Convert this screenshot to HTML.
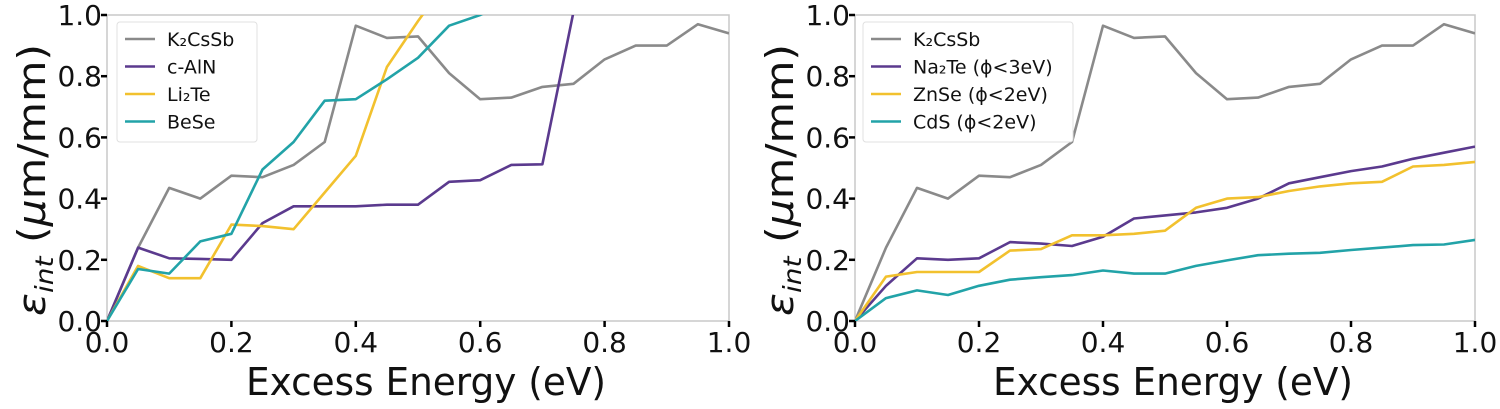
<!DOCTYPE html>
<html><head><meta charset="utf-8">
<style>
body{margin:0;background:#fff;width:1500px;height:409px;overflow:hidden}
svg{display:block}
text{font-family:"DejaVu Sans","Liberation Sans",sans-serif;fill:#111}
</style></head>
<body>
<svg id="chart" width="1500" height="409"></svg>
<script>
const xs=[0,0.05,0.1,0.15,0.2,0.25,0.3,0.35,0.4,0.45,0.5,0.55,0.6,0.65,0.7,0.75,0.8,0.85,0.9,0.95,1.0];
const k2cssb=[0,0.24,0.435,0.40,0.475,0.47,0.51,0.585,0.965,0.925,0.93,0.81,0.725,0.73,0.765,0.775,0.855,0.90,0.90,0.97,0.94];
const caln=[0,0.24,0.205,0.203,0.20,0.32,0.375,0.375,0.375,0.38,0.38,0.455,0.46,0.51,0.512,1.01];
const li2te=[0,0.18,0.14,0.14,0.315,0.31,0.30,0.42,0.54,0.83,0.98,1.12];
const bese=[0,0.17,0.155,0.26,0.285,0.495,0.585,0.72,0.725,0.79,0.86,0.965,1.0,1.05];
const na2te=[0,0.115,0.205,0.20,0.205,0.258,0.253,0.245,0.275,0.335,0.345,0.355,0.37,0.40,0.45,0.47,0.49,0.505,0.53,0.55,0.57];
const znse=[0,0.145,0.16,0.16,0.16,0.23,0.235,0.28,0.28,0.285,0.295,0.37,0.40,0.405,0.425,0.44,0.45,0.455,0.505,0.51,0.52];
const cds=[0,0.075,0.10,0.085,0.115,0.135,0.143,0.15,0.165,0.155,0.155,0.18,0.198,0.215,0.22,0.223,0.232,0.24,0.248,0.25,0.265];
const ticks=[0,0.2,0.4,0.6,0.8,1.0];
const tickLabels=["0.0","0.2","0.4","0.6","0.8","1.0"];
const leftNames=["K₂CsSb","c-AlN","Li₂Te","BeSe"];
const rightNames=["K₂CsSb","Na₂Te (ϕ<3eV)","ZnSe (ϕ<2eV)","CdS (ϕ<2eV)"];
const C={gray:"#8a8a8a",purple:"#5b3a8e",yellow:"#f2c12e",teal:"#22a3a8"};
const NS="http://www.w3.org/2000/svg";
const svg=document.getElementById('chart');
function mk(t,a,p){const e=document.createElementNS(NS,t);for(const k in a)e.setAttribute(k,a[k]);(p||svg).appendChild(e);return e;}
function panel(id,x0,x1,series,names,legend){
  const y0=321,y1=15;
  const X=v=>x0+(x1-x0)*v, Y=v=>y0-(y0-y1)*v;
  const g=mk('g',{});
  
  
  const cid='clip-'+id;
  const defs=mk('defs',{},g);
  const cp=mk('clipPath',{id:cid},defs);
  mk('rect',{x:x0,y:y1,width:x1-x0,height:y0-y1},cp);
  const frame=mk('rect',{x:x0,y:y1,width:x1-x0,height:y0-y1,fill:'none',stroke:'#c8c8c8','stroke-width':1.5},g);
  
  
  series.forEach((s,i)=>{
    const d=s.v.map((v,j)=>(j?'L':'M')+X(xs[j]).toFixed(1)+','+Y(v).toFixed(1)).join('');
    const p=mk('path',{d:d,fill:'none',stroke:s.c,'stroke-width':2.6,'stroke-linejoin':'round','clip-path':'url(#'+cid+')'},g);
    
    
  });
  ticks.forEach((t,i)=>{
    mk('line',{x1:x0-6,x2:x0,y1:Y(t),y2:Y(t),stroke:'#000','stroke-width':2.5},g);
    const ty=mk('text',{x:x0-5,y:Y(t)+10,'text-anchor':'end','font-size':28},g);
    ty.textContent=tickLabels[i];
    
    
    mk('line',{x1:X(t),x2:X(t),y1:y0,y2:y0+6,stroke:'#000','stroke-width':2.5},g);
    const tx=mk('text',{x:X(t),y:352,'text-anchor':'middle','font-size':28},g);
    tx.textContent=tickLabels[i];
    
    
  });
  const xt=mk('text',{x:(x0+x1)/2+8,y:395,'text-anchor':'middle','font-size':38,textLength:360,lengthAdjust:'spacingAndGlyphs'},g);
  xt.textContent='Excess Energy (eV)';
  
  
  const yt=mk('text',{transform:`translate(${x0-62},${(y0+y1)/2+12}) rotate(-90)`,'text-anchor':'middle','font-size':38,textLength:272,lengthAdjust:'spacingAndGlyphs'},g);
  yt.innerHTML='<tspan font-style="italic">ε</tspan><tspan font-style="italic" font-size="25" dy="8">int</tspan><tspan dy="-8"> (</tspan><tspan font-style="italic">μ</tspan><tspan>m/mm)</tspan>';
  
  
  const lg=mk('g',{},g);
  
  
  mk('rect',{x:legend.x,y:legend.y,width:legend.w,height:120,fill:'#fff',stroke:'#e0e0e0',rx:3},lg);
  names.forEach((n,i)=>{
    const ly=legend.y+17+i*27.5;
    mk('line',{x1:legend.x+8,x2:legend.x+38,y1:ly,y2:ly,stroke:series[i].c,'stroke-width':2.6},lg);
    const t=mk('text',{x:legend.x+50,y:ly+7,'font-size':19},lg);
    t.textContent=n;
    
    
  });
}
panel('left-chart',107,729,[{n:'k2cssb',v:k2cssb,c:C.gray},{n:'c-aln',v:caln,c:C.purple},{n:'li2te',v:li2te,c:C.yellow},{n:'bese',v:bese,c:C.teal}],leftNames,{x:117,y:22,w:140});
panel('right-chart',855,1475,[{n:'k2cssb',v:k2cssb,c:C.gray},{n:'na2te',v:na2te,c:C.purple},{n:'znse',v:znse,c:C.yellow},{n:'cds',v:cds,c:C.teal}],rightNames,{x:863,y:22,w:210});
</script>
</body></html>
